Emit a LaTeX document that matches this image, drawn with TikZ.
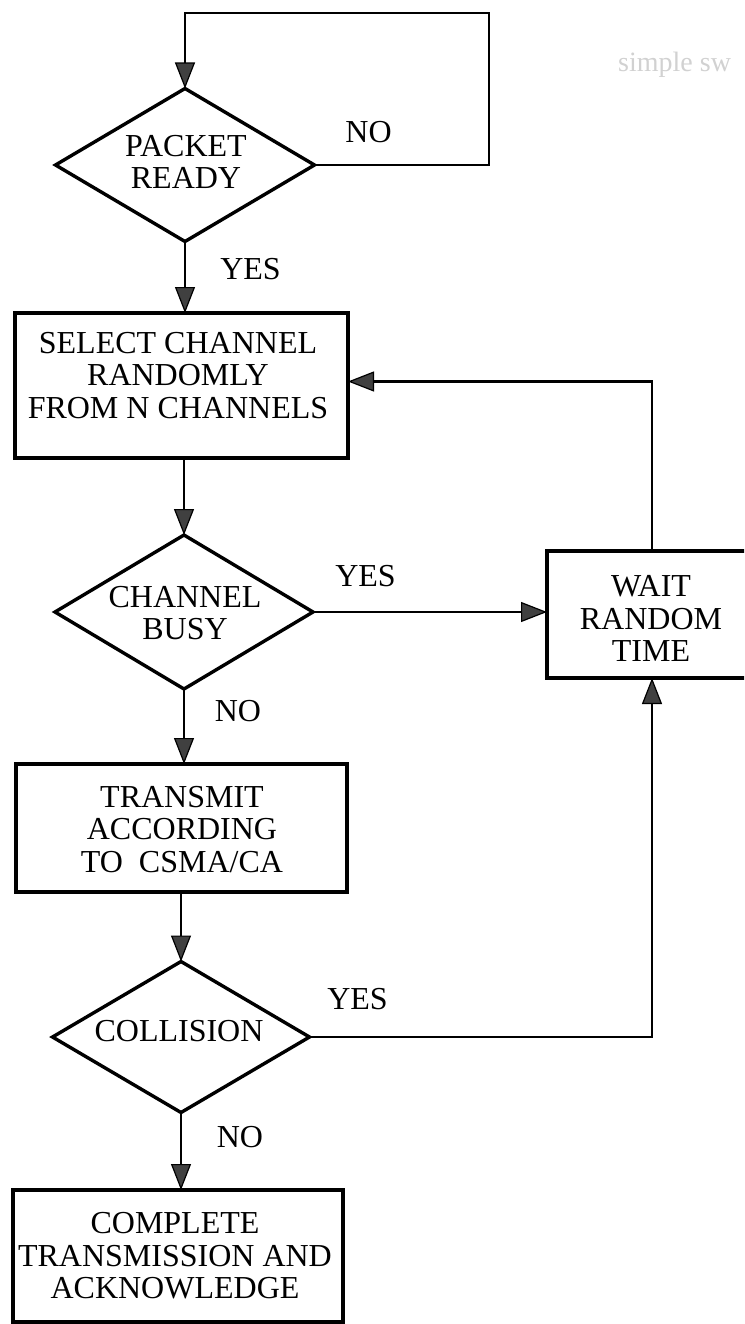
\documentclass[tikz,border=0pt]{standalone}
\usepackage{fontspec}
\setmainfont{Liberation Serif}
\usetikzlibrary{shapes.geometric,arrows.meta,calc}

\begin{document}
\begin{tikzpicture}[x=1pt,y=-1pt,
  every node/.style={font=\fontsize{32}{32.5}\selectfont},
  box/.style={draw, line width=3.2pt, rectangle, inner sep=0pt, outer sep=0pt},
  decision/.style={draw, line width=3.4pt, diamond, inner sep=0pt, outer sep=0pt},
  caption/.style={inner sep=0pt, align=center},
  conn/.style={line width=2.8pt},
  flow/.style={conn, -{Triangle[length=26pt,width=20pt,fill=black!75,line width=1.2pt]}},
  tag/.style={anchor=base, inner sep=0pt}]

\useasboundingbox (0,0) rectangle (744,1324);
\clip (0,0) rectangle (744,1324);

% faint show-through from the reverse side of the sheet
\node[anchor=base west, inner sep=0pt, text=black!18, font=\fontsize{28}{30}\selectfont]
  (ghost) at (618,72) {simple sw};

% decisions
\node[decision, minimum width=259pt, minimum height=153pt] (ready) at (185,165) {};
\node[decision, minimum width=258pt, minimum height=154pt] (busy) at (184,612) {};
\node[decision, minimum width=257pt, minimum height=151pt] (coll) at (181,1037) {};

% process boxes
\node[box, minimum width=333pt, minimum height=145pt] (sel) at (181.5,385.5) {};
\node[box, minimum width=331pt, minimum height=128pt] (trans) at (181.5,828) {};
\node[box, minimum width=330pt, minimum height=132pt] (done) at (178,1256) {};
\node[box, minimum width=210pt, minimum height=127pt] (wait) at (652,614.5) {};

% texts of the shapes
\node[caption] (ready-t) at (186,162) {PACKET\\READY};
\node[caption] (busy-t) at (185,613) {CHANNEL\\BUSY};
\node[caption] (coll-t) at (179,1031) {COLLISION};
\node[caption] (sel-t) at (178,375.5) {SELECT CHANNEL\\RANDOMLY\\FROM N CHANNELS};
\node[caption] (trans-t) at (182,829.5) {TRANSMIT\\ACCORDING\\TO\ \ CSMA/CA};
\node[caption] (done-t) at (175,1256) {COMPLETE\\TRANSMISSION AND\\ACKNOWLEDGE};
\node[caption] (wait-t) at (651,618.5) {WAIT\\RANDOM\\TIME};

% idle loop round the first decision
\coordinate (loopR) at (489,13);
\draw[flow] (ready.east) -| (loopR) -| (ready.north);

% main flow
\draw[flow] (ready.south) -- (ready.south |- sel.north);
\draw[flow] (sel.south -| busy.north) -- (busy.north);
\draw[flow] (busy.east) -- (busy.east -| wait.west);
\draw[flow] (busy.south) -- (busy.south |- trans.north);
\draw[flow] (trans.south -| coll.north) -- (coll.north);
\draw[flow] (coll.south) -- (coll.south |- done.north);

% retry paths
\draw[flow] (coll.east) -| (wait.south);
\draw[flow] (wait.north) |- ([yshift=4pt]sel.east);

% branch labels
\node[tag] (noA) at (368.5,143) {NO};
\node[tag] (yesA) at (250.5,279) {YES};
\node[tag] (yesB) at (365.5,586) {YES};
\node[tag] (noB) at (238,721) {NO};
\node[tag] (yesC) at (357.5,1009) {YES};
\node[tag] (noC) at (240,1147) {NO};
\end{tikzpicture}
\end{document}
